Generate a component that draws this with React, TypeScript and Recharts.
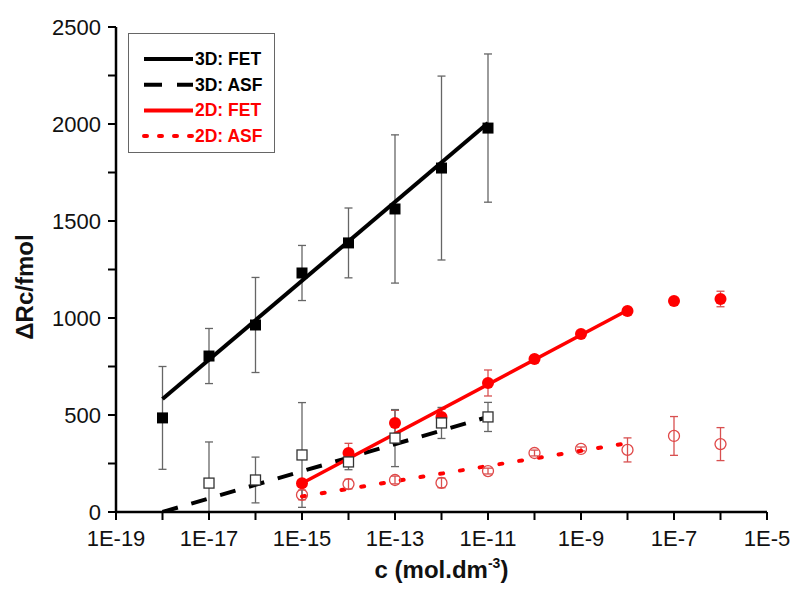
import React from "react";
import { ComposedChart, Scatter, XAxis, YAxis, ErrorBar, Legend, Label } from "recharts";

const FONT = "Arial, 'Liberation Sans', sans-serif";

// 3D: FET (filled squares)
const fet3dX = [1e-18, 1e-17, 1e-16, 1e-15, 1e-14, 1e-13, 1e-12, 1e-11];
const fet3dY = [485, 804, 964, 1232, 1387, 1562, 1773, 1979];
const fet3dErr = [265, 142, 245, 142, 180, 382, 474, 382];

// 3D: ASF (open squares) - errors as [down, up]
const asf3dX = [1e-17, 1e-16, 1e-15, 1e-14, 1e-13, 1e-12, 1e-11];
const asf3dY = [149, 165, 294, 258, 381, 459, 490];
const asf3dErr = [[149, 212], [118, 118], [270, 270], [40, 40], [147, 147], [80, 80], [75, 75]];

// 2D: FET (filled circles)
const fet2dX = [1e-15, 1e-14, 1e-13, 1e-12, 1e-11, 1e-10, 1e-9, 1e-8, 1e-7, 1e-6];
const fet2dY = [148, 304, 459, 490, 665, 789, 918, 1036, 1088, 1098];
const fet2dErr = [0, 50, 65, 40, 67, 0, 0, 0, 0, 40];

// 2D: ASF (open circles)
const asf2dX = [1e-15, 1e-14, 1e-13, 1e-12, 1e-11, 1e-10, 1e-9, 1e-8, 1e-7, 1e-6];
const asf2dY = [88, 144, 165, 150, 211, 304, 325, 320, 392, 350];
const asf2dErr = [25, 25, 20, 25, 15, 15, 10, 62, 100, 85];

// linear fits (end points)
const fitFet3dX = [1e-18, 1e-11];
const fitFet3dY = [582, 2005];
const fitAsf3dX = [1e-18, 1e-11];
const fitAsf3dY = [0, 490];
const fitFet2dX = [1e-15, 1e-8];
const fitFet2dY = [148, 1040];
const fitAsf2dX = [1e-15, 1e-8];
const fitAsf2dY = [80, 355];

const xTicks = [1e-19, 1e-18, 1e-17, 1e-16, 1e-15, 1e-14, 1e-13, 1e-12, 1e-11, 1e-10, 1e-9, 1e-8, 1e-7, 1e-6, 1e-5];
const yTicks = [0, 250, 500, 750, 1000, 1250, 1500, 1750, 2000, 2250, 2500];

const legendItems = [
  { name: "3D: FET", color: "#000", dash: undefined, cap: "butt" },
  { name: "3D: ASF", color: "#000", dash: "18 15", cap: "butt" },
  { name: "2D: FET", color: "#ff0000", dash: undefined, cap: "butt" },
  { name: "2D: ASF", color: "#ff0000", dash: "3 12", cap: "round" },
];

const toRows = (xs: number[], ys: number[], errs?: any[]) =>
  xs.map((x, i) => ({ x, y: ys[i], err: errs ? errs[i] : 0 }));

const FilledSquare = (p: any) => (
  <rect x={p.cx - 5.5} y={p.cy - 5.5} width={11} height={11} fill="#000" />
);
const OpenSquare = (p: any) => (
  <rect x={p.cx - 5} y={p.cy - 5} width={10} height={10} fill="#fff" stroke="#333" strokeWidth={1.3} />
);
const FilledCircle = (p: any) => <circle cx={p.cx} cy={p.cy} r={6} fill="#ff0000" />;
const OpenCircle = (p: any) => (
  <circle cx={p.cx} cy={p.cy} r={5.5} fill="none" stroke="#e04848" strokeWidth={1.3} />
);
const NoDot = () => <g />;

const fmtX = (v: number) => {
  const e = Math.round(Math.log10(v));
  return e % 2 !== 0 ? `1E${e}` : "";
};
const fmtY = (v: number) => (v % 500 === 0 ? String(v) : "");

const XTitle = (props: any) => {
  const vb = props.viewBox || { x: 116, width: 651 };
  const cx = vb.x + vb.width / 2;
  return (
    <text x={cx} y={578} textAnchor="middle" fontSize={24} fontWeight="bold" fontFamily={FONT} fill="#111">
      c (mol.dm<tspan dy={-10} fontSize={14}>-3</tspan>
      <tspan dy={10}>)</tspan>
    </text>
  );
};

const YTitle = () => (
  <text
    x={33}
    y={287}
    transform="rotate(-90, 33, 287)"
    textAnchor="middle"
    fontSize={24}
    fontWeight="bold"
    fontFamily={FONT}
    fill="#111"
  >
    ΔRc/fmol
  </text>
);

const LegendBox = () => (
  <div style={{ width: 147, height: 120, border: "1px solid #666", background: "#fff", boxSizing: "border-box" }}>
    <svg width={145} height={118}>
      {legendItems.map((it, i) => {
        const y = 25 + i * 25.7;
        return (
          <g key={it.name}>
            <line
              x1={15}
              x2={64}
              y1={y}
              y2={y}
              stroke={it.color}
              strokeWidth={4}
              strokeDasharray={it.dash}
              strokeLinecap={it.cap as any}
            />
            <text x={66} y={y + 6} fontSize={17.5} fontWeight="bold" fontFamily={FONT} fill={it.color}>
              {it.name}
            </text>
          </g>
        );
      })}
    </svg>
  </div>
);

export default function App() {
  return (
    <div style={{ position: "absolute", left: 0, top: 0, width: 800, height: 604, background: "#fff" }}>
      <ComposedChart width={800} height={604} margin={{ top: 27, right: 33, bottom: 0, left: 0 }}>
        <XAxis
          type="number"
          dataKey="x"
          scale="log"
          domain={[1e-19, 1e-5]}
          ticks={xTicks}
          tickFormatter={fmtX}
          interval={0}
          height={92}
          axisLine={{ stroke: "#000", strokeWidth: 2.5 }}
          tickLine={{ stroke: "#000", strokeWidth: 2 }}
          tickSize={8}
          tickMargin={10}
          tick={{ fontSize: 22, fill: "#111", fontFamily: FONT }}
          allowDataOverflow
        >
          <Label content={XTitle} />
        </XAxis>
        <YAxis
          type="number"
          dataKey="y"
          domain={[0, 2500]}
          ticks={yTicks}
          tickFormatter={fmtY}
          interval={0}
          width={116}
          axisLine={{ stroke: "#000", strokeWidth: 2.5 }}
          tickLine={{ stroke: "#000", strokeWidth: 2 }}
          tickSize={8}
          tickMargin={7}
          tick={{ fontSize: 22, fill: "#111", fontFamily: FONT }}
          allowDataOverflow
        >
          <Label content={YTitle} />
        </YAxis>

        <Scatter
          name="3D: ASF fit"
          data={toRows(fitAsf3dX, fitAsf3dY)}
          shape={NoDot}
          line={{ stroke: "#000", strokeWidth: 4, strokeDasharray: "16 14" }}
          lineType="joint"
          isAnimationActive={false}
        />
        <Scatter
          name="2D: ASF fit"
          data={toRows(fitAsf2dX, fitAsf2dY)}
          shape={NoDot}
          line={{ stroke: "#ff0000", strokeWidth: 4, strokeDasharray: "3 17", strokeLinecap: "round" }}
          lineType="joint"
          isAnimationActive={false}
        />
        <Scatter
          name="3D: FET fit"
          data={toRows(fitFet3dX, fitFet3dY)}
          shape={NoDot}
          line={{ stroke: "#000", strokeWidth: 4 }}
          lineType="joint"
          isAnimationActive={false}
        />
        <Scatter
          name="2D: FET fit"
          data={toRows(fitFet2dX, fitFet2dY)}
          shape={NoDot}
          line={{ stroke: "#ff0000", strokeWidth: 3.5 }}
          lineType="joint"
          isAnimationActive={false}
        />

        <Scatter name="3D: FET" data={toRows(fet3dX, fet3dY, fet3dErr)} shape={FilledSquare} isAnimationActive={false}>
          <ErrorBar dataKey="err" direction="y" width={4} stroke="#666" strokeWidth={1.3} isAnimationActive={false} />
        </Scatter>
        <Scatter name="2D: FET" data={toRows(fet2dX, fet2dY, fet2dErr)} shape={FilledCircle} isAnimationActive={false}>
          <ErrorBar dataKey="err" direction="y" width={4} stroke="#d85050" strokeWidth={1.3} isAnimationActive={false} />
        </Scatter>
        <Scatter name="2D: ASF" data={toRows(asf2dX, asf2dY, asf2dErr)} shape={OpenCircle} isAnimationActive={false}>
          <ErrorBar dataKey="err" direction="y" width={4} stroke="#d85050" strokeWidth={1.3} isAnimationActive={false} />
        </Scatter>
        <Scatter name="3D: ASF" data={toRows(asf3dX, asf3dY, asf3dErr)} shape={OpenSquare} isAnimationActive={false}>
          <ErrorBar dataKey="err" direction="y" width={4} stroke="#666" strokeWidth={1.3} isAnimationActive={false} />
        </Scatter>

        <Legend
          layout="vertical"
          align="center"
          verticalAlign="middle"
          content={LegendBox}
          wrapperStyle={{ position: "absolute", left: 128, top: 33, width: 147, height: 120 }}
        />
      </ComposedChart>
    </div>
  );
}
